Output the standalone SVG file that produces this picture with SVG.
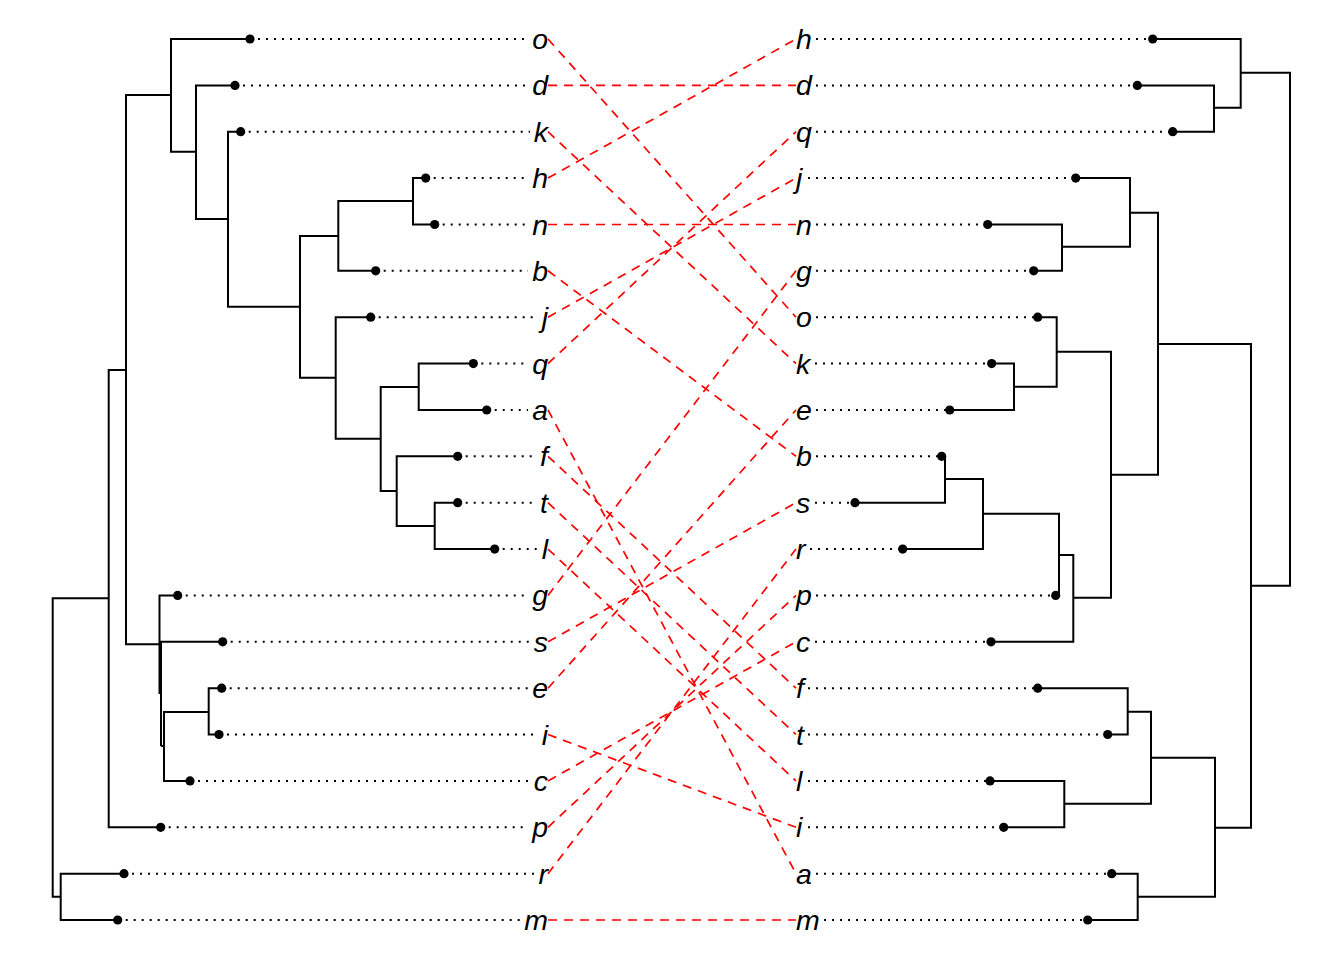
<svg xmlns="http://www.w3.org/2000/svg" width="1344" height="960" viewBox="0 0 1344 960">
<style>
.br{fill:none;stroke:#000;stroke-width:2;stroke-linecap:butt;stroke-linejoin:miter}
.dt{fill:none;stroke:#000;stroke-width:2;stroke-dasharray:2 6}
.lf{fill:#000}
.lbl{font-family:"Liberation Sans",Arial,sans-serif;font-style:italic;font-size:28.5px;fill:#000}
.L{text-anchor:end}
.R{text-anchor:start}
.cn{fill:none;stroke:#ff0000;stroke-width:1.7;stroke-dasharray:9 7}
</style>
<rect width="1344" height="960" fill="#fff"/>
<g id="left-tree">
<path class="br" d="M425.7 178.1 H413 V224.5 H434.7"/>
<path class="br" d="M413 201 H338.3 V270.8 H375.7"/>
<path class="br" d="M473.3 363.6 H418.7 V410 H486.7"/>
<path class="br" d="M457.7 502.7 H434.7 V549.1 H494.7"/>
<path class="br" d="M457.7 456.3 H396.7 V526 H434.7"/>
<path class="br" d="M418.7 387 H380.7 V491 H396.7"/>
<path class="br" d="M370.7 317.2 H335.7 V438.7 H380.7"/>
<path class="br" d="M338.3 236 H300 V377.7 H335.7"/>
<path class="br" d="M240.7 131.7 H228 V306.7 H300"/>
<path class="br" d="M235 85.4 H196 V219 H228"/>
<path class="br" d="M250 39 H171 V151.7 H196"/>
<path class="br" d="M221.7 688.2 H208.7 V734.5 H219"/>
<path class="br" d="M208.7 712 H164 V780.9 H190 M161 746 H164"/>
<path class="br" d="M177.7 595.4 H159.5 V694 M222.7 641.8 H161 V746"/>
<path class="br" d="M171 95 H126 V644.3 H160"/>
<path class="br" d="M126 370 H108.7 V827.3 H160.7"/>
<path class="br" d="M124 873.7 H60.7 V920 H117.7"/>
<path class="br" d="M108.7 598.3 H52.7 V896.7 H60.7"/>
</g>
<g id="right-tree">
<path class="br" d="M1137.3 85.4 H1214 V131.7 H1172.7"/>
<path class="br" d="M1152.7 39 H1240.7 V107.7 H1214"/>
<path class="br" d="M987.7 224.5 H1062 V270.8 H1033.7"/>
<path class="br" d="M1075.7 178.1 H1130 V246.7 H1062"/>
<path class="br" d="M991.7 363.6 H1014 V410 H949.7"/>
<path class="br" d="M1037.7 317.2 H1056.7 V386.7 H1014"/>
<path class="br" d="M941.7 456.3 H945 V502.7 H855"/>
<path class="br" d="M945 479 H983 V549.1 H902.7"/>
<path class="br" d="M983 513.7 H1059 V595.4 H1055.7"/>
<path class="br" d="M1059 555 H1073.3 V641.8 H991"/>
<path class="br" d="M1056.7 351.7 H1111 V597.7 H1073.3"/>
<path class="br" d="M1130 212.7 H1158 V474.7 H1111"/>
<path class="br" d="M1037.7 688.2 H1127.7 V734.5 H1107.7"/>
<path class="br" d="M990 780.9 H1064.3 V827.3 H1003.7"/>
<path class="br" d="M1127.7 711.7 H1151 V803.7 H1064.3"/>
<path class="br" d="M1111.7 873.7 H1137.7 V920 H1087.7"/>
<path class="br" d="M1151 757.7 H1215 V896.7 H1137.7"/>
<path class="br" d="M1158 344 H1251 V827.7 H1215"/>
<path class="br" d="M1240.7 72.7 H1290 V585.7 H1251"/>
</g>
<g id="left-leaves">
<g id="L-o"><path class="dt" d="M250 39 H528"/><circle class="lf" cx="250" cy="39" r="4.6"/><text class="lbl L" x="548" y="49">o</text></g>
<g id="L-d"><path class="dt" d="M235 85.4 H528"/><circle class="lf" cx="235" cy="85.4" r="4.6"/><text class="lbl L" x="548" y="95.4">d</text></g>
<g id="L-k"><path class="dt" d="M240.7 131.7 H530"/><circle class="lf" cx="240.7" cy="131.7" r="4.6"/><text class="lbl L" x="548" y="141.7">k</text></g>
<g id="L-h"><path class="dt" d="M425.7 178.1 H528"/><circle class="lf" cx="425.7" cy="178.1" r="4.6"/><text class="lbl L" x="548" y="188.1">h</text></g>
<g id="L-n"><path class="dt" d="M434.7 224.5 H528"/><circle class="lf" cx="434.7" cy="224.5" r="4.6"/><text class="lbl L" x="548" y="234.5">n</text></g>
<g id="L-b"><path class="dt" d="M375.7 270.8 H528"/><circle class="lf" cx="375.7" cy="270.8" r="4.6"/><text class="lbl L" x="548" y="280.8">b</text></g>
<g id="L-j"><path class="dt" d="M370.7 317.2 H537"/><circle class="lf" cx="370.7" cy="317.2" r="4.6"/><text class="lbl L" x="548" y="327.2">j</text></g>
<g id="L-q"><path class="dt" d="M473.3 363.6 H528"/><circle class="lf" cx="473.3" cy="363.6" r="4.6"/><text class="lbl L" x="548" y="373.6">q</text></g>
<g id="L-a"><path class="dt" d="M486.7 410 H528"/><circle class="lf" cx="486.7" cy="410" r="4.6"/><text class="lbl L" x="548" y="420">a</text></g>
<g id="L-f"><path class="dt" d="M457.7 456.3 H536"/><circle class="lf" cx="457.7" cy="456.3" r="4.6"/><text class="lbl L" x="548" y="466.3">f</text></g>
<g id="L-t"><path class="dt" d="M457.7 502.7 H536"/><circle class="lf" cx="457.7" cy="502.7" r="4.6"/><text class="lbl L" x="548" y="512.7">t</text></g>
<g id="L-l"><path class="dt" d="M494.7 549.1 H537"/><circle class="lf" cx="494.7" cy="549.1" r="4.6"/><text class="lbl L" x="548" y="559.1">l</text></g>
<g id="L-g"><path class="dt" d="M177.7 595.4 H528"/><circle class="lf" cx="177.7" cy="595.4" r="4.6"/><text class="lbl L" x="548" y="605.4">g</text></g>
<g id="L-s"><path class="dt" d="M222.7 641.8 H530"/><circle class="lf" cx="222.7" cy="641.8" r="4.6"/><text class="lbl L" x="548" y="651.8">s</text></g>
<g id="L-e"><path class="dt" d="M221.7 688.2 H528"/><circle class="lf" cx="221.7" cy="688.2" r="4.6"/><text class="lbl L" x="548" y="698.2">e</text></g>
<g id="L-i"><path class="dt" d="M219 734.5 H537"/><circle class="lf" cx="219" cy="734.5" r="4.6"/><text class="lbl L" x="548" y="744.5">i</text></g>
<g id="L-c"><path class="dt" d="M190 780.9 H530"/><circle class="lf" cx="190" cy="780.9" r="4.6"/><text class="lbl L" x="548" y="790.9">c</text></g>
<g id="L-p"><path class="dt" d="M160.7 827.3 H528"/><circle class="lf" cx="160.7" cy="827.3" r="4.6"/><text class="lbl L" x="548" y="837.3">p</text></g>
<g id="L-r"><path class="dt" d="M124 873.7 H534"/><circle class="lf" cx="124" cy="873.7" r="4.6"/><text class="lbl L" x="548" y="883.7">r</text></g>
<g id="L-m"><path class="dt" d="M117.7 920 H520"/><circle class="lf" cx="117.7" cy="920" r="4.6"/><text class="lbl L" x="548" y="930">m</text></g>
</g>
<g id="right-leaves">
<g id="R-h"><path class="dt" d="M816 39 H1152.7"/><circle class="lf" cx="1152.7" cy="39" r="4.6"/><text class="lbl R" x="796" y="49">h</text></g>
<g id="R-d"><path class="dt" d="M816 85.4 H1137.3"/><circle class="lf" cx="1137.3" cy="85.4" r="4.6"/><text class="lbl R" x="796" y="95.4">d</text></g>
<g id="R-q"><path class="dt" d="M816 131.7 H1172.7"/><circle class="lf" cx="1172.7" cy="131.7" r="4.6"/><text class="lbl R" x="796" y="141.7">q</text></g>
<g id="R-j"><path class="dt" d="M808 178.1 H1075.7"/><circle class="lf" cx="1075.7" cy="178.1" r="4.6"/><text class="lbl R" x="796" y="188.1">j</text></g>
<g id="R-n"><path class="dt" d="M816 224.5 H987.7"/><circle class="lf" cx="987.7" cy="224.5" r="4.6"/><text class="lbl R" x="796" y="234.5">n</text></g>
<g id="R-g"><path class="dt" d="M816 270.8 H1033.7"/><circle class="lf" cx="1033.7" cy="270.8" r="4.6"/><text class="lbl R" x="796" y="280.8">g</text></g>
<g id="R-o"><path class="dt" d="M816 317.2 H1037.7"/><circle class="lf" cx="1037.7" cy="317.2" r="4.6"/><text class="lbl R" x="796" y="327.2">o</text></g>
<g id="R-k"><path class="dt" d="M815 363.6 H991.7"/><circle class="lf" cx="991.7" cy="363.6" r="4.6"/><text class="lbl R" x="796" y="373.6">k</text></g>
<g id="R-e"><path class="dt" d="M816 410 H949.7"/><circle class="lf" cx="949.7" cy="410" r="4.6"/><text class="lbl R" x="796" y="420">e</text></g>
<g id="R-b"><path class="dt" d="M816 456.3 H941.7"/><circle class="lf" cx="941.7" cy="456.3" r="4.6"/><text class="lbl R" x="796" y="466.3">b</text></g>
<g id="R-s"><path class="dt" d="M815 502.7 H855"/><circle class="lf" cx="855" cy="502.7" r="4.6"/><text class="lbl R" x="796" y="512.7">s</text></g>
<g id="R-r"><path class="dt" d="M810 549.1 H902.7"/><circle class="lf" cx="902.7" cy="549.1" r="4.6"/><text class="lbl R" x="796" y="559.1">r</text></g>
<g id="R-p"><path class="dt" d="M816 595.4 H1055.7"/><circle class="lf" cx="1055.7" cy="595.4" r="4.6"/><text class="lbl R" x="796" y="605.4">p</text></g>
<g id="R-c"><path class="dt" d="M815 641.8 H991"/><circle class="lf" cx="991" cy="641.8" r="4.6"/><text class="lbl R" x="796" y="651.8">c</text></g>
<g id="R-f"><path class="dt" d="M808 688.2 H1037.7"/><circle class="lf" cx="1037.7" cy="688.2" r="4.6"/><text class="lbl R" x="796" y="698.2">f</text></g>
<g id="R-t"><path class="dt" d="M808 734.5 H1107.7"/><circle class="lf" cx="1107.7" cy="734.5" r="4.6"/><text class="lbl R" x="796" y="744.5">t</text></g>
<g id="R-l"><path class="dt" d="M808 780.9 H990"/><circle class="lf" cx="990" cy="780.9" r="4.6"/><text class="lbl R" x="796" y="790.9">l</text></g>
<g id="R-i"><path class="dt" d="M808 827.3 H1003.7"/><circle class="lf" cx="1003.7" cy="827.3" r="4.6"/><text class="lbl R" x="796" y="837.3">i</text></g>
<g id="R-a"><path class="dt" d="M816 873.7 H1111.7"/><circle class="lf" cx="1111.7" cy="873.7" r="4.6"/><text class="lbl R" x="796" y="883.7">a</text></g>
<g id="R-m"><path class="dt" d="M824 920 H1087.7"/><circle class="lf" cx="1087.7" cy="920" r="4.6"/><text class="lbl R" x="796" y="930">m</text></g>
</g>
<g id="connectors">
<line class="cn" x1="548" y1="39" x2="796" y2="317.2"/>
<line class="cn" x1="548" y1="85.4" x2="796" y2="85.4"/>
<line class="cn" x1="548" y1="131.7" x2="796" y2="363.6"/>
<line class="cn" x1="548" y1="178.1" x2="796" y2="39"/>
<line class="cn" x1="548" y1="224.5" x2="796" y2="224.5"/>
<line class="cn" x1="548" y1="270.8" x2="796" y2="456.3"/>
<line class="cn" x1="548" y1="317.2" x2="796" y2="178.1"/>
<line class="cn" x1="548" y1="363.6" x2="796" y2="131.7"/>
<line class="cn" x1="548" y1="410" x2="796" y2="873.7"/>
<line class="cn" x1="548" y1="456.3" x2="796" y2="688.2"/>
<line class="cn" x1="548" y1="502.7" x2="796" y2="734.5"/>
<line class="cn" x1="548" y1="549.1" x2="796" y2="780.9"/>
<line class="cn" x1="548" y1="595.4" x2="796" y2="270.8"/>
<line class="cn" x1="548" y1="641.8" x2="796" y2="502.7"/>
<line class="cn" x1="548" y1="688.2" x2="796" y2="410"/>
<line class="cn" x1="548" y1="734.5" x2="796" y2="827.3"/>
<line class="cn" x1="548" y1="780.9" x2="796" y2="641.8"/>
<line class="cn" x1="548" y1="827.3" x2="796" y2="595.4"/>
<line class="cn" x1="548" y1="873.7" x2="796" y2="549.1"/>
<line class="cn" x1="548" y1="920" x2="796" y2="920"/>
</g>
</svg>
